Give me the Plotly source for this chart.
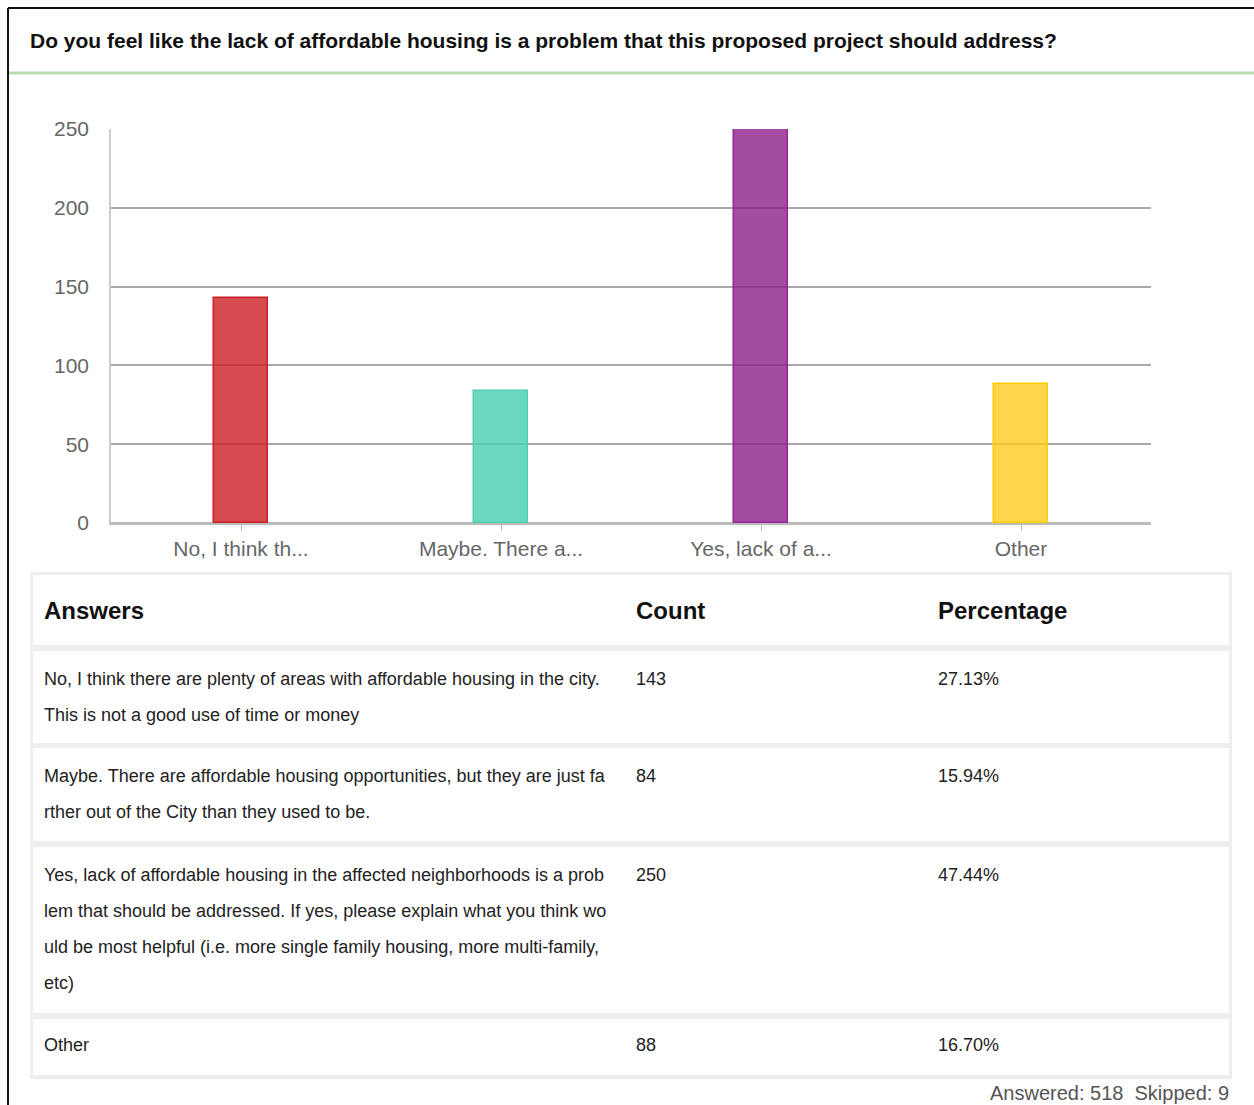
import plotly.graph_objects as go

# --- survey data -----------------------------------------------------------
question = ("Do you feel like the lack of affordable housing is a problem "
            "that this proposed project should address?")
short_labels = ["No, I think th...", "Maybe. There a...", "Yes, lack of a...", "Other"]
counts = [143, 84, 250, 88]
percentages = ["27.13%", "15.94%", "47.44%", "16.70%"]
answer_lines = [
    ["No, I think there are plenty of areas with affordable housing in the city.",
     "This is not a good use of time or money"],
    ["Maybe. There are affordable housing opportunities, but they are just fa",
     "rther out of the City than they used to be."],
    ["Yes, lack of affordable housing in the affected neighborhoods is a prob",
     "lem that should be addressed. If yes, please explain what you think wo",
     "uld be most helpful (i.e. more single family housing, more multi-family,",
     "etc)"],
    ["Other"],
]
table_headers = ["Answers", "Count", "Percentage"]
answered, skipped = 518, 9
y_ticks = [0, 50, 100, 150, 200, 250]

fill_colors = ["rgba(204,30,36,0.8)", "rgba(72,206,176,0.8)",
               "rgba(141,31,139,0.8)", "rgba(255,204,29,0.8)"]
line_colors = ["rgb(204,30,36)", "rgb(78,208,176)",
               "rgb(147,38,150)", "rgb(255,206,0)"]

W, H = 1254, 1105
FONT = "Liberation Sans, Arial, sans-serif"


def px(x):
    return x / W


def py(y):
    return 1 - y / H


fig = go.Figure()
fig.add_trace(go.Bar(
    x=short_labels, y=counts, width=0.21,
    marker=dict(color=fill_colors, line=dict(color=line_colors, width=1.5)),
    hoverinfo="x+y", showlegend=False,
))

shapes = []
annotations = []

# frame lines and title separator
shapes.append(dict(type="line", xref="paper", yref="paper",
                   x0=px(8), x1=px(8), y0=py(8), y1=0,
                   line=dict(color="#111", width=2)))
shapes.append(dict(type="line", xref="paper", yref="paper",
                   x0=px(8), x1=1, y0=py(8), y1=py(8),
                   line=dict(color="#111", width=2)))
shapes.append(dict(type="line", xref="paper", yref="paper",
                   x0=px(9), x1=1, y0=py(73), y1=py(73),
                   line=dict(color="#b8dcad", width=3)))
annotations.append(dict(xref="paper", yref="paper", x=px(28), y=py(41),
                        xanchor="left", yanchor="middle", showarrow=False,
                        text="<b>" + question + "</b>",
                        font=dict(family=FONT, size=21, color="#111")))

# answers table
tbl_left, tbl_right = 30, 1232
shapes.append(dict(type="rect", xref="paper", yref="paper", layer="below",
                   x0=px(tbl_left), x1=px(tbl_right), y0=py(572), y1=py(1079),
                   fillcolor="#eceef0", line=dict(width=0)))
row_bounds = [(575, 645), (651, 743), (748, 841), (847, 1013), (1019, 1075)]
for top, bottom in row_bounds:
    shapes.append(dict(type="rect", xref="paper", yref="paper", layer="below",
                       x0=px(tbl_left + 3), x1=px(tbl_right - 3),
                       y0=py(top), y1=py(bottom),
                       fillcolor="white", line=dict(width=0)))

col_x = [42, 634, 936]
for cx, head in zip(col_x, table_headers):
    annotations.append(dict(xref="paper", yref="paper", x=px(cx), y=py(610),
                            xanchor="left", yanchor="middle", showarrow=False,
                            text="<b>" + head + "</b>",
                            font=dict(family=FONT, size=24, color="#111")))

row_first_line = [679, 776, 875, 1045]
line_gap = 36
for i, lines in enumerate(answer_lines):
    y0 = row_first_line[i]
    for k, line in enumerate(lines):
        annotations.append(dict(xref="paper", yref="paper", x=px(col_x[0]),
                                y=py(y0 + k * line_gap), xanchor="left",
                                yanchor="middle", showarrow=False, text=line,
                                font=dict(family=FONT, size=18, color="#222")))
    annotations.append(dict(xref="paper", yref="paper", x=px(col_x[1]),
                            y=py(y0), xanchor="left", yanchor="middle",
                            showarrow=False, text=str(counts[i]),
                            font=dict(family=FONT, size=18, color="#222")))
    annotations.append(dict(xref="paper", yref="paper", x=px(col_x[2]),
                            y=py(y0), xanchor="left", yanchor="middle",
                            showarrow=False, text=percentages[i],
                            font=dict(family=FONT, size=18, color="#222")))

annotations.append(dict(xref="paper", yref="paper", x=px(1231), y=py(1093),
                        xanchor="right", yanchor="middle", showarrow=False,
                        text=f"Answered: {answered}  Skipped: {skipped}",
                        font=dict(family=FONT, size=20, color="#555")))

fig.update_layout(
    width=W, height=H,
    margin=dict(l=0, r=0, t=0, b=0, autoexpand=False),
    paper_bgcolor="white", plot_bgcolor="white",
    bargap=0,
    shapes=shapes, annotations=annotations,
    xaxis=dict(domain=[px(111), px(1151)], showgrid=False, automargin=False,
               showline=True, linecolor="#bbb", linewidth=1.5,
               ticks="outside", ticklen=6, tickcolor="#bbb",
               tickfont=dict(family=FONT, size=21, color="#666"),
               fixedrange=True),
    yaxis=dict(domain=[py(523), py(129)], range=[0, 250], automargin=False,
               tickvals=y_ticks, showgrid=True, gridcolor="#aaa", gridwidth=1.5,
               showline=True, linecolor="#ccc", linewidth=1.5,
               zeroline=True, zerolinecolor="#bbb", zerolinewidth=1.5,
               ticks="", ticklabelstandoff=16,
               tickfont=dict(family=FONT, size=21, color="#666"),
               fixedrange=True),
)

fig.write_html("out.html")
